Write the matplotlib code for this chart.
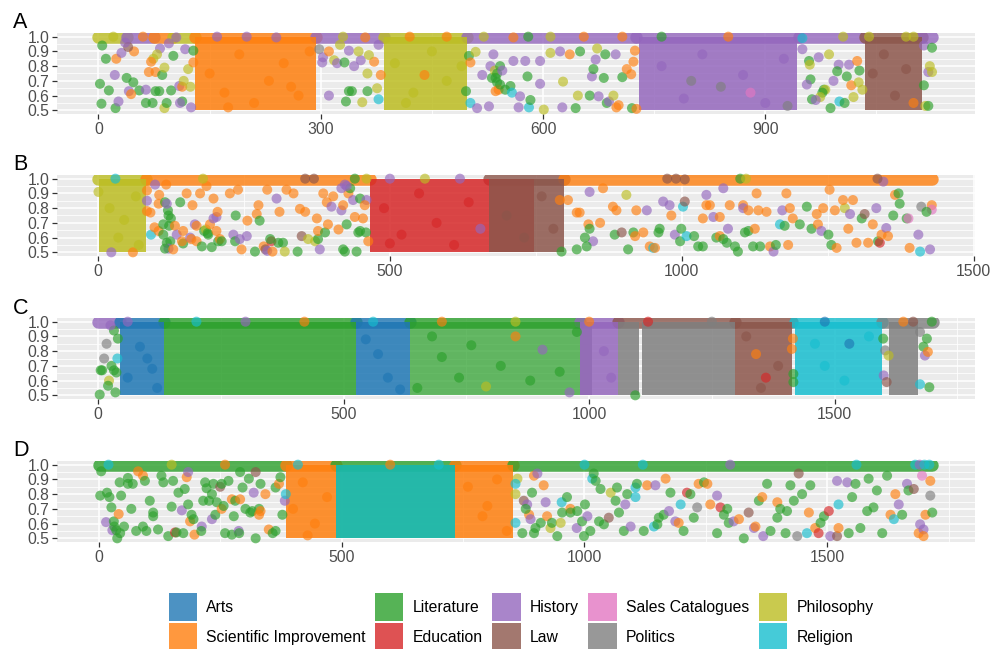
import matplotlib.pyplot as plt
from matplotlib.patches import Patch

plt.rcParams['font.family'] = ['Liberation Sans', 'DejaVu Sans']

categories = ['Arts', 'Scientific Improvement', 'Literature', 'Education', 'History',
              'Law', 'Sales Catalogues', 'Politics', 'Philosophy', 'Religion']
codes = ['Ar', 'Sc', 'Li', 'Ed', 'Hi', 'La', 'Sa', 'Po', 'Ph', 'Re']
palette = ['#1f77b4', '#ff7f0e', '#2ca02c', '#d62728', '#9467bd',
           '#8c564b', '#e377c2', '#7f7f7f', '#bcbd22', '#17becf']
colour = dict(zip(codes, palette))

panel_labels = ['A', 'B', 'C', 'D']

# dense runs of items (drawn as solid blocks): start, end, category
A_blocks = [(130, 293, 'Sc'), (386, 497, 'Ph'), (730, 943, 'Hi'), (1034, 1111, 'La')]
B_blocks = [(2, 82, 'Ph'), (466, 747, 'Ed'), (669, 798, 'La')]
C_blocks = [(45, 133, 'Ar'), (133, 525, 'Li'), (525, 636, 'Ar'), (636, 982, 'Li'),
            (982, 1006, 'Po'), (982, 1059, 'Hi'), (1059, 1102, 'Po'), (1108, 1297, 'Po'),
            (1297, 1413, 'La'), (1419, 1597, 'Re'), (1611, 1670, 'Po')]
D_blocks = [(385, 488, 'Sc'), (488, 733, 'Li'), (488, 733, 'Re'), (733, 852, 'Sc')]

# runs of items sitting on the 1.0 line
A_top = [(0, 38, 'Ph'), (38, 75, 'Hi'), (75, 100, 'Sc'), (100, 130, 'Ph'), (130, 293, 'Sc'),
         (293, 386, 'Hi'), (386, 497, 'Ph'), (497, 725, 'Hi'), (725, 945, 'Hi'),
         (945, 1034, 'Hi'), (1034, 1111, 'La'), (1111, 1125, 'Hi')]
B_top = [(0, 82, 'Ph'), (82, 466, 'Sc'), (669, 798, 'La'), (798, 1428, 'Sc')]
C_top = [(0, 45, 'Hi'), (45, 133, 'Ar'), (133, 525, 'Li'), (525, 636, 'Ar'), (636, 982, 'Li'),
         (982, 1059, 'Hi'), (1059, 1297, 'La'), (1297, 1413, 'La'), (1419, 1597, 'Re'),
         (1597, 1700, 'Po')]
D_top = [(0, 385, 'Li'), (385, 488, 'Sc'), (488, 733, 'Li'), (733, 852, 'Sc'), (852, 1716, 'Li')]

# scattered items: position, score, category
A_points = [
    (5, 0.94, 'Li'), (10, 0.85, 'Li'), (2, 0.68, 'Li'), (4, 0.545, 'Li'), (14, 0.635, 'Li'),
    (23, 0.515, 'Li'), (22, 0.74, 'Hi'), (27, 0.56, 'Hi'), (24, 0.85, 'Sc'), (31, 0.89, 'Hi'),
    (38, 0.72, 'Li'), (47, 0.69, 'Li'), (55, 0.635, 'Li'), (41, 0.63, 'Hi'), (44, 0.61, 'Sc'),
    (48, 0.90, 'Sc'), (40, 0.93, 'La'), (36, 0.96, 'Hi'), (64, 0.55, 'Li'), (73, 0.55, 'Li'),
    (64, 0.64, 'Hi'), (68, 0.76, 'Sc'), (74, 0.85, 'Ph'), (71, 0.83, 'Sc'), (77, 0.76, 'Sc'),
    (82, 0.63, 'Li'), (77, 0.63, 'Li'), (89, 0.515, 'Ph'), (92, 0.55, 'Li'), (86, 0.74, 'Li'),
    (89, 0.79, 'Ph'), (83, 0.92, 'Hi'), (95, 0.955, 'Hi'), (79, 0.88, 'Ph'), (98, 0.635, 'Li'),
    (109, 0.665, 'Hi'), (113, 0.66, 'Sc'), (113, 0.56, 'Li'), (110, 0.55, 'Hi'), (115, 0.70, 'Ph'),
    (124, 0.66, 'Ph'), (121, 0.78, 'Ph'), (117, 0.915, 'Hi'), (101, 0.87, 'Li'), (125, 0.52, 'Hi'),
    (128, 0.905, 'Li'), (128, 0.825, 'Sc'),
    (150, 0.75, 'Sc'), (170, 0.62, 'Sc'), (190, 0.88, 'Sc'), (210, 0.55, 'Sc'), (230, 0.70, 'Sc'),
    (250, 0.82, 'Sc'), (270, 0.60, 'Sc'), (285, 0.90, 'Sc'), (175, 0.52, 'Sc'), (260, 0.66, 'Sc'),
    (298, 0.915, 'Po'), (303, 0.86, 'Hi'), (311, 0.90, 'Sc'), (302, 0.825, 'Hi'), (311, 0.60, 'Hi'),
    (318, 0.84, 'Ph'), (322, 0.82, 'Hi'), (332, 0.825, 'Li'), (326, 0.945, 'Ph'), (338, 0.905, 'Hi'),
    (345, 0.80, 'Hi'), (354, 0.84, 'Hi'), (351, 0.90, 'Ph'), (363, 0.75, 'Ph'), (372, 0.83, 'Sc'),
    (365, 0.875, 'Ph'), (378, 0.945, 'Hi'), (338, 0.63, 'Li'), (334, 0.56, 'Li'), (342, 0.63, 'Li'),
    (356, 0.555, 'Ph'), (363, 0.63, 'Li'), (376, 0.65, 'Ph'), (378, 0.575, 'Re'), (381, 0.74, 'Sc'),
    (400, 0.82, 'Ph'), (425, 0.62, 'Ph'), (450, 0.90, 'Ph'), (470, 0.70, 'Ph'), (415, 0.55, 'Ph'),
    (490, 0.80, 'Ph'), (440, 0.74, 'Sc'),
    (500, 0.87, 'Li'), (496, 0.63, 'Li'), (502, 0.55, 'Re'), (511, 0.515, 'Hi'), (509, 0.897, 'Ph'),
    (502, 0.825, 'Sc'), (518, 0.74, 'Hi'), (529, 0.80, 'Hi'), (527, 0.527, 'Hi'), (531, 0.72, 'Li'),
    (535, 0.77, 'Ph'), (538, 0.69, 'Li'), (538, 0.75, 'Li'), (536, 0.63, 'Sc'),
    (533, 0.88, 'Hi'), (536, 0.72, 'Li'), (540, 0.64, 'Sc'), (542, 0.675, 'Li'), (549, 0.64, 'Li'),
    (556, 0.665, 'Li'), (542, 0.80, 'Li'), (545, 0.77, 'Hi'), (558, 0.62, 'Re'), (569, 0.595, 'Hi'),
    (567, 0.52, 'Hi'), (581, 0.52, 'Re'), (583, 0.57, 'Li'), (579, 0.73, 'Li'), (596, 0.68, 'Hi'),
    (596, 0.835, 'Hi'), (601, 0.505, 'Ph'), (560, 0.835, 'Hi'), (576, 0.835, 'Hi'), (610, 0.89, 'Ph'),
    (623, 0.90, 'Hi'), (626, 0.52, 'Hi'), (627, 0.695, 'Ph'), (636, 0.88, 'Sc'), (644, 0.515, 'Li'),
    (647, 0.60, 'Ph'), (650, 0.90, 'Li'), (663, 0.60, 'Li'), (666, 0.73, 'Hi'), (668, 0.78, 'Li'),
    (671, 0.845, 'Hi'), (673, 0.92, 'Ph'), (682, 0.72, 'Li'), (684, 0.88, 'Li'), (675, 0.595, 'Hi'),
    (686, 0.55, 'Li'), (689, 0.56, 'Hi'), (695, 0.60, 'Ph'), (698, 0.88, 'Hi'), (699, 0.52, 'Sc'),
    (702, 0.535, 'Sc'), (707, 0.725, 'Li'), (713, 0.78, 'Sc'), (719, 0.745, 'Sc'), (722, 0.83, 'Sc'),
    (724, 0.905, 'Sc'), (720, 0.515, 'Li'), (726, 0.51, 'Sc'),
    (760, 0.80, 'Hi'), (790, 0.58, 'Hi'), (815, 0.88, 'Hi'), (840, 0.66, 'Po'), (870, 0.74, 'Hi'),
    (900, 0.55, 'Hi'), (925, 0.85, 'Hi'), (800, 0.70, 'Po'), (880, 0.62, 'Sa'), (930, 0.53, 'Po'),
    (950, 0.915, 'Hi'), (959, 0.835, 'Li'), (960, 0.81, 'Ph'), (972, 0.86, 'Hi'), (961, 0.71, 'Li'),
    (956, 0.675, 'Hi'), (979, 0.64, 'Li'), (981, 0.64, 'Ph'), (977, 0.62, 'Li'), (974, 0.59, 'Ph'),
    (963, 0.575, 'Li'), (968, 0.57, 'Hi'), (986, 0.88, 'Ph'), (988, 0.515, 'Li'), (999, 0.81, 'Hi'),
    (1013, 0.81, 'Hi'), (997, 0.765, 'Li'), (1010, 0.73, 'Li'), (992, 0.70, 'Hi'), (1000, 0.56, 'Re'),
    (1007, 0.55, 'Li'), (1019, 0.59, 'Ph'), (1016, 0.67, 'Sc'), (1026, 0.69, 'Ph'), (1027, 0.77, 'Li'),
    (1024, 0.835, 'Sc'), (1031, 0.64, 'Ph'),
    (1045, 0.75, 'La'), (1060, 0.88, 'La'), (1075, 0.60, 'La'), (1090, 0.78, 'La'), (1100, 0.55, 'Sc'),
    (1114, 0.94, 'Hi'), (1120, 0.76, 'Hi'), (1122, 0.80, 'Ph'), (1125, 0.76, 'Ph'), (1125, 0.925, 'Li'),
    (1114, 0.67, 'Li'), (1116, 0.53, 'Ph'), (1120, 0.53, 'Li'),
    (20, 1.0, 'Ph'), (60, 1.0, 'Sc'), (105, 0.995, 'Hi'), (160, 1.0, 'Hi'), (200, 1.0, 'Hi'),
    (240, 0.995, 'Hi'), (330, 1.0, 'Ph'), (360, 0.995, 'Sc'), (420, 1.0, 'Sc'), (470, 1.0, 'Sc'),
    (520, 1.0, 'Ph'), (560, 0.995, 'Sc'), (580, 1.0, 'Li'), (610, 1.0, 'Ph'), (655, 1.0, 'Sc'),
    (707, 1.0, 'Sc'), (760, 1.0, 'Li'), (850, 1.0, 'Sc'), (950, 0.99, 'Re'), (1005, 1.0, 'Ph'),
    (1040, 1.0, 'Ph'), (1090, 1.0, 'Ph'), (1100, 1.0, 'Ph'),
]

B_points = [
    (1, 0.91, 'Ph'), (23, 0.50, 'Hi'), (60, 0.50, 'Sc'), (84, 0.85, 'Hi'), (84, 0.92, 'Sc'),
    (20, 0.80, 'Ph'), (45, 0.72, 'Ph'), (65, 0.88, 'Ph'), (35, 0.60, 'Ph'), (70, 0.55, 'Ph'),
    (84, 0.78, 'Sc'), (90, 0.77, 'Sc'), (91, 0.62, 'Re'), (97, 0.67, 'Sc'), (104, 0.645, 'Sc'),
    (112, 0.62, 'Li'), (104, 0.83, 'Sc'), (105, 0.89, 'Sc'), (98, 0.96, 'Hi'), (117, 0.96, 'Sc'),
    (115, 0.84, 'Li'), (120, 0.785, 'Li'), (118, 0.83, 'Hi'), (121, 0.75, 'Li'), (125, 0.73, 'Li'),
    (122, 0.68, 'Li'), (112, 0.69, 'Li'), (124, 0.575, 'Li'), (118, 0.565, 'Li'), (121, 0.525, 'Hi'),
    (115, 0.525, 'Li'), (129, 0.52, 'Sc'), (132, 0.68, 'Sc'), (135, 0.62, 'Hi'), (141, 0.84, 'Li'),
    (146, 0.645, 'Sc'), (146, 0.56, 'Li'), (144, 0.575, 'Sc'), (152, 0.90, 'Sc'), (162, 0.82, 'Sc'),
    (158, 0.60, 'Hi'), (160, 0.59, 'Sc'), (166, 0.69, 'Hi'), (169, 0.68, 'Sc'), (169, 0.575, 'Sc'),
    (178, 0.54, 'Li'), (182, 0.645, 'Li'), (185, 0.655, 'Ph'), (188, 0.63, 'Li'), (189, 0.62, 'Li'),
    (192, 0.69, 'Sc'), (195, 0.535, 'Li'), (198, 0.73, 'Hi'), (203, 0.74, 'Hi'), (205, 0.775, 'Sc'),
    (203, 0.645, 'Sc'), (206, 0.575, 'Li'), (209, 0.59, 'Sc'), (212, 0.575, 'Li'), (175, 0.90, 'Sc'),
    (186, 0.95, 'Sc'), (198, 0.865, 'Sc'), (226, 0.90, 'Sc'), (232, 0.62, 'Hi'), (235, 0.575, 'Li'),
    (243, 0.59, 'Hi'), (246, 0.52, 'Sc'), (240, 0.925, 'Sc'), (255, 0.61, 'Hi'), (256, 0.715, 'Sc'),
    (269, 0.505, 'Li'), (272, 0.76, 'Sc'), (277, 0.715, 'Li'), (275, 0.82, 'Sc'), (236, 0.75, 'Li'),
    (290, 0.925, 'Sc'), (284, 0.54, 'Sc'), (287, 0.52, 'La'), (290, 0.51, 'Hi'), (297, 0.575, 'Ed'),
    (299, 0.505, 'Sc'), (295, 0.59, 'Li'), (306, 0.865, 'Hi'), (311, 0.775, 'Sc'), (309, 0.565, 'Li'),
    (317, 0.565, 'Li'), (320, 0.505, 'Ph'), (323, 0.925, 'Sc'), (335, 0.90, 'Sc'), (342, 0.505, 'Li'),
    (346, 0.795, 'Sc'), (355, 0.775, 'Sc'), (349, 0.61, 'La'), (360, 0.59, 'Ph'), (372, 0.575, 'Ph'),
    (377, 0.59, 'Li'), (380, 0.52, 'Hi'), (377, 0.645, 'Sc'), (375, 0.73, 'Sc'), (386, 0.90, 'Sc'),
    (392, 0.84, 'Sc'), (389, 0.635, 'Li'), (394, 0.69, 'Sc'), (400, 0.81, 'Hi'), (403, 0.88, 'Sc'),
    (417, 0.785, 'Hi'), (412, 0.655, 'Sc'), (420, 0.82, 'Sc'), (423, 0.505, 'Li'), (420, 0.52, 'Li'),
    (426, 0.69, 'Li'), (429, 0.90, 'Sc'), (437, 0.855, 'Hi'), (440, 0.74, 'Sc'), (446, 0.635, 'Li'),
    (449, 0.645, 'Li'), (443, 0.505, 'Li'), (432, 0.935, 'Li'), (449, 0.865, 'Li'), (454, 0.73, 'Sc'),
    (460, 0.855, 'Hi'), (457, 0.82, 'Sc'), (459, 0.635, 'Li'), (463, 0.575, 'Sc'), (423, 0.96, 'Hi'),
    (426, 0.95, 'Hi'), (417, 0.935, 'Hi'),
    (490, 0.80, 'Ed'), (520, 0.62, 'Ed'), (550, 0.90, 'Ed'), (580, 0.70, 'Ed'), (610, 0.55, 'Ed'),
    (635, 0.84, 'Ed'), (655, 0.66, 'Hi'), (500, 0.56, 'Ed'), (700, 0.75, 'La'), (730, 0.60, 'La'),
    (760, 0.88, 'La'), (780, 0.66, 'La'),
    (791, 0.855, 'Sc'), (805, 0.855, 'Sc'), (820, 0.77, 'Sc'), (825, 0.77, 'Sc'), (840, 0.69, 'Sc'),
    (842, 0.66, 'Li'), (848, 0.575, 'Hi'), (834, 0.60, 'Li'), (837, 0.54, 'Li'), (820, 0.52, 'Li'),
    (794, 0.505, 'Li'), (842, 0.91, 'Hi'), (860, 0.70, 'Sc'), (865, 0.935, 'Sc'), (882, 0.81, 'Sc'),
    (885, 0.62, 'Li'), (897, 0.635, 'La'), (888, 0.785, 'Sc'), (905, 0.89, 'Ph'), (908, 0.52, 'Li'),
    (917, 0.635, 'Li'), (920, 0.61, 'Sc'), (922, 0.785, 'Sc'), (934, 0.635, 'Sc'), (940, 0.785, 'Hi'),
    (945, 0.54, 'Sc'), (951, 0.53, 'Re'), (954, 0.53, 'Sc'), (960, 0.635, 'Li'), (962, 0.66, 'Li'),
    (968, 0.845, 'Hi'), (979, 0.82, 'Hi'), (982, 0.75, 'Sc'), (988, 0.62, 'Hi'), (997, 0.575, 'Li'),
    (999, 0.66, 'Li'), (1002, 0.81, 'Re'), (1005, 0.845, 'La'), (1008, 0.61, 'Re'), (1021, 0.61, 'Li'),
    (1028, 0.54, 'Li'), (1036, 0.54, 'Li'), (1036, 0.73, 'Sc'), (1042, 0.82, 'Sc'), (1048, 0.82, 'Sc'),
    (1054, 0.74, 'Hi'), (1065, 0.74, 'Sc'), (1059, 0.60, 'Li'), (1065, 0.61, 'Sc'), (1071, 0.59, 'Li'),
    (1077, 0.565, 'Li'), (1082, 0.82, 'Sc'), (1079, 0.66, 'Hi'), (1071, 0.935, 'Hi'), (1042, 0.89, 'Hi'),
    (1091, 0.54, 'Li'), (1096, 0.505, 'Li'), (1105, 0.82, 'Sc'), (1105, 0.80, 'Hi'), (1114, 0.785, 'Sc'),
    (1108, 0.635, 'Li'), (1114, 0.645, 'Li'), (1125, 0.66, 'Sc'), (1122, 0.54, 'Li'), (1134, 0.54, 'Li'),
    (1131, 0.785, 'Sc'), (1128, 0.90, 'Sc'), (1145, 0.775, 'Sc'), (1151, 0.54, 'Sc'), (1157, 0.505, 'Hi'),
    (1161, 0.55, 'Li'), (1168, 0.69, 'Re'), (1172, 0.785, 'Hi'), (1176, 0.68, 'Li'), (1179, 0.90, 'Sc'),
    (1185, 0.80, 'Sc'), (1190, 0.73, 'Sc'), (1182, 0.55, 'Sc'), (1202, 0.69, 'Li'), (1214, 0.81, 'Li'),
    (1222, 0.66, 'Li'), (1231, 0.76, 'Sc'), (1233, 0.69, 'Sc'), (1239, 0.645, 'Hi'), (1242, 0.80, 'Sc'),
    (1253, 0.925, 'Sc'), (1251, 0.62, 'Li'), (1256, 0.55, 'Li'), (1265, 0.53, 'Sc'), (1262, 0.785, 'Sc'),
    (1279, 0.80, 'Ph'), (1276, 0.855, 'Sc'), (1285, 0.66, 'Sc'), (1288, 0.76, 'Hi'), (1293, 0.855, 'Sc'),
    (1299, 0.565, 'Sc'), (1308, 0.73, 'Li'), (1313, 0.76, 'La'), (1319, 0.565, 'Sc'), (1327, 0.69, 'Sc'),
    (1333, 0.80, 'Hi'), (1336, 0.575, 'Li'), (1339, 0.565, 'Ed'), (1342, 0.62, 'Sc'), (1350, 0.665, 'Hi'),
    (1353, 0.61, 'Sc'), (1345, 0.98, 'Hi'), (1365, 0.89, 'Sc'), (1371, 0.90, 'Li'), (1373, 0.83, 'Li'),
    (1362, 0.75, 'Li'), (1385, 0.73, 'Li'), (1388, 0.73, 'Sa'), (1390, 0.53, 'Sc'), (1405, 0.62, 'Hi'),
    (1408, 0.505, 'Re'), (1410, 0.81, 'Po'), (1425, 0.52, 'Hi'), (1428, 0.82, 'Sc'), (1428, 0.79, 'Sa'),
    (1419, 0.775, 'Li'),
    (355, 1.0, 'La'), (370, 1.0, 'La'), (975, 1.0, 'La'), (990, 1.0, 'La'), (1005, 0.995, 'La'),
    (1335, 1.0, 'La'), (1100, 1.0, 'Li'), (1110, 1.0, 'Ph'), (30, 1.0, 'Re'), (180, 1.0, 'Ph'),
    (440, 1.0, 'Li'), (460, 1.0, 'Ph'), (500, 1.0, 'Hi'), (560, 1.0, 'Ph'), (620, 1.0, 'Hi'),
]

C_points = [
    (3, 0.505, 'Li'), (8, 0.67, 'Li'), (12, 0.75, 'Po'), (17, 0.85, 'Po'), (22, 0.60, 'Ph'),
    (20, 0.565, 'Li'), (5, 0.67, 'Li'), (27, 0.70, 'Li'), (32, 0.67, 'Li'), (35, 0.52, 'Li'),
    (37, 0.655, 'Li'), (40, 0.885, 'Li'), (39, 0.75, 'Re'), (32, 0.94, 'Li'), (25, 0.975, 'Hi'),
    (60, 0.62, 'Ar'), (85, 0.83, 'Ar'), (110, 0.68, 'Ar'), (120, 0.55, 'Ar'), (545, 0.88, 'Ar'),
    (590, 0.62, 'Ar'), (615, 0.54, 'Ar'), (1460, 0.85, 'Re'), (1520, 0.60, 'Re'), (1570, 0.90, 'Re'),
    (1674, 0.93, 'Po'), (1688, 0.885, 'Li'), (1681, 0.83, 'Li'), (1684, 0.77, 'Hi'), (1690, 0.795, 'Sc'),
    (1693, 0.555, 'Li'), (1674, 0.575, 'Re'), (1698, 1.0, 'Li'), (1599, 0.885, 'Li'), (1603, 0.805, 'Po'),
    (1600, 0.635, 'Hi'), (1606, 0.59, 'La'), (1610, 0.77, 'Ph'), (1416, 0.645, 'Li'), (1416, 0.59, 'Li'),
    (1415, 0.885, 'Sc'), (1413, 0.815, 'Sc'), (1094, 0.50, 'Li'),
    (680, 0.90, 'Li'), (700, 0.76, 'Li'), (735, 0.62, 'Li'), (760, 0.84, 'Li'), (790, 0.56, 'Ph'),
    (820, 0.70, 'Li'), (850, 0.90, 'Sc'), (880, 0.60, 'Li'), (905, 0.81, 'Hi'), (940, 0.66, 'Li'),
    (960, 0.52, 'Hi'), (650, 0.55, 'Li'), (975, 0.93, 'Li'), (100, 0.75, 'Ar'), (570, 0.78, 'Ar'),
    (1340, 0.78, 'Sc'), (1360, 0.62, 'Ed'), (1480, 0.70, 'Re'), (1530, 0.85, 'Ar'),
    (1320, 0.90, 'La'), (1385, 0.70, 'La'), (1350, 0.55, 'La'), (1030, 0.80, 'Hi'), (1045, 0.62, 'Hi'),
    (60, 1.0, 'Hi'), (200, 1.0, 'Re'), (300, 1.0, 'Hi'), (420, 1.0, 'Sc'), (560, 1.0, 'Re'),
    (700, 1.0, 'Sc'), (850, 1.0, 'Ph'), (1000, 1.0, 'Sc'), (1120, 1.0, 'Ed'), (1250, 1.0, 'Po'),
    (1480, 1.0, 'Ar'), (1640, 1.0, 'Sc'), (1660, 1.0, 'La'),
]

D_points = [
    (3, 0.79, 'Li'), (17, 0.81, 'Li'), (5, 0.955, 'Li'), (15, 0.61, 'Hi'), (28, 0.555, 'Hi'),
    (22, 0.78, 'Li'), (26, 0.71, 'Li'), (31, 0.615, 'Li'), (32, 0.58, 'Li'), (36, 0.555, 'Li'),
    (38, 0.50, 'Li'), (41, 0.665, 'Sc'), (44, 0.535, 'Li'), (46, 0.79, 'Li'), (52, 0.58, 'Li'),
    (43, 0.88, 'Li'), (60, 0.87, 'Li'), (60, 0.91, 'Li'), (67, 0.70, 'Li'), (70, 0.87, 'Li'),
    (77, 0.55, 'Li'), (81, 0.955, 'Sc'), (91, 0.925, 'Sc'), (98, 0.55, 'Li'), (95, 0.89, 'Li'),
    (91, 0.58, 'Li'), (105, 0.755, 'Li'), (112, 0.675, 'Li'), (112, 0.65, 'Li'), (122, 0.56, 'Li'),
    (129, 0.925, 'Li'), (133, 0.88, 'Li'), (143, 0.515, 'Li'), (150, 0.715, 'Li'), (153, 0.89, 'Li'),
    (157, 0.54, 'Ed'), (160, 0.54, 'Li'), (164, 0.81, 'Li'), (171, 0.69, 'Hi'), (174, 0.535, 'Li'),
    (177, 0.835, 'Li'), (181, 0.915, 'Sc'), (184, 0.95, 'Hi'), (184, 0.73, 'Li'), (188, 0.615, 'Sc'),
    (195, 0.63, 'Li'), (191, 0.66, 'Li'), (197, 0.525, 'Sc'), (212, 0.58, 'Hi'), (211, 0.55, 'Li'),
    (215, 0.755, 'Li'), (219, 0.88, 'Li'), (222, 0.84, 'Li'), (227, 0.755, 'Li'), (233, 0.80, 'Li'),
    (233, 0.63, 'Hi'), (236, 0.87, 'Li'), (240, 0.66, 'Li'), (243, 0.745, 'Li'), (250, 0.85, 'La'),
    (253, 0.87, 'Li'), (253, 0.70, 'Sc'), (257, 0.72, 'Li'), (260, 0.535, 'Li'), (267, 0.89, 'Li'),
    (274, 0.765, 'Sc'), (278, 0.65, 'Li'), (274, 0.525, 'Li'), (281, 0.755, 'Li'), (288, 0.55, 'Hi'),
    (289, 0.535, 'Li'), (291, 0.765, 'Sc'), (291, 0.95, 'Li'), (296, 0.845, 'Li'), (302, 0.70, 'Li'),
    (309, 0.905, 'Li'), (312, 0.675, 'Li'), (316, 0.685, 'Li'), (319, 0.81, 'Hi'), (323, 0.50, 'Li'),
    (323, 0.95, 'La'), (330, 0.70, 'Li'), (333, 0.685, 'Sc'), (330, 0.66, 'Sc'), (333, 0.87, 'Li'),
    (343, 0.80, 'Sc'), (350, 0.56, 'Sc'), (358, 0.535, 'Li'), (364, 0.845, 'Li'), (371, 0.87, 'Sc'),
    (374, 0.915, 'Li'), (378, 0.66, 'Li'), (383, 0.755, 'Hi'), (385, 0.80, 'Re'), (364, 0.55, 'Li'),
    (400, 0.70, 'Sc'), (420, 0.88, 'Sc'), (445, 0.60, 'Sc'), (470, 0.78, 'Sc'), (760, 0.85, 'Sc'),
    (790, 0.65, 'Sc'), (820, 0.90, 'Sc'), (840, 0.55, 'Sc'), (800, 0.72, 'Sc'), (430, 0.52, 'Sc'),
    (862, 0.905, 'Ph'), (858, 0.87, 'Re'), (858, 0.80, 'Ph'), (858, 0.605, 'Re'), (872, 0.535, 'Li'),
    (875, 0.755, 'La'), (882, 0.73, 'Hi'), (886, 0.66, 'Sc'), (889, 0.63, 'Hi'), (879, 0.70, 'Li'),
    (892, 0.81, 'Li'), (896, 0.925, 'Sc'), (903, 0.94, 'Hi'), (896, 0.535, 'Li'), (899, 0.57, 'Li'),
    (910, 0.605, 'Li'), (916, 0.86, 'Sc'), (920, 0.745, 'Hi'), (923, 0.65, 'Sc'), (930, 0.57, 'Ph'),
    (933, 0.605, 'Li'), (944, 0.515, 'Li'), (951, 0.605, 'Ph'), (953, 0.745, 'Re'), (954, 0.675, 'Li'),
    (964, 0.78, 'Li'), (971, 0.70, 'Sc'), (971, 0.675, 'Li'), (985, 0.685, 'Li'), (984, 0.57, 'Hi'),
    (995, 0.615, 'Li'), (999, 0.515, 'Li'), (1001, 0.73, 'Li'), (1006, 0.65, 'Hi'), (1012, 0.55, 'Li'),
    (1016, 0.905, 'Re'), (1019, 0.94, 'Li'), (1023, 0.89, 'Li'), (1030, 0.615, 'Li'), (1040, 0.595, 'Li'),
    (1033, 0.835, 'Li'), (1050, 0.64, 'La'), (1054, 0.81, 'Ph'), (1064, 0.755, 'Li'), (1067, 0.845, 'Li'),
    (1071, 0.675, 'Li'), (1081, 0.55, 'Li'), (1084, 0.73, 'Hi'), (1088, 0.80, 'Li'), (1095, 0.58, 'Hi'),
    (1105, 0.78, 'Re'), (1105, 0.845, 'Re'), (1108, 0.87, 'Li'), (1122, 0.55, 'Li'), (1129, 0.86, 'Sc'),
    (1146, 0.86, 'Hi'), (1143, 0.58, 'Re'), (1150, 0.595, 'Li'), (1153, 0.64, 'Li'), (1163, 0.66, 'Li'),
    (1167, 0.905, 'Sc'), (1174, 0.685, 'Hi'), (1177, 0.81, 'Li'), (1187, 0.615, 'Hi'), (1194, 0.605, 'Sc'),
    (1198, 0.73, 'Re'), (1204, 0.55, 'Li'), (1211, 0.81, 'Ed'), (1218, 0.80, 'Li'), (1225, 0.64, 'Li'),
    (1232, 0.71, 'Po'), (1235, 0.87, 'Sc'), (1246, 0.88, 'Li'), (1253, 0.87, 'Sc'), (1259, 0.73, 'Sc'),
    (1273, 0.535, 'Li'), (1273, 0.79, 'Hi'), (1280, 0.71, 'Ed'), (1287, 0.66, 'Li'), (1294, 0.70, 'Li'),
    (1297, 0.605, 'Li'), (1307, 0.615, 'Hi'), (1318, 0.63, 'Sc'), (1328, 0.50, 'Li'), (1338, 0.675, 'La'),
    (1349, 0.57, 'Hi'), (1352, 0.58, 'Sc'), (1359, 0.755, 'Li'), (1366, 0.78, 'Sc'), (1368, 0.515, 'Hi'),
    (1376, 0.87, 'Li'), (1383, 0.55, 'Li'), (1397, 0.745, 'Sc'), (1397, 0.64, 'Li'), (1403, 0.70, 'Li'),
    (1414, 0.535, 'Li'), (1417, 0.685, 'Li'), (1424, 0.86, 'Li'), (1431, 0.755, 'Li'), (1438, 0.515, 'Po'),
    (1441, 0.94, 'La'), (1448, 0.80, 'Li'), (1458, 0.535, 'Re'), (1462, 0.675, 'Sc'), (1465, 0.86, 'Li'),
    (1475, 0.57, 'Sc'), (1482, 0.535, 'Ed'), (1486, 0.605, 'Li'), (1493, 0.65, 'Li'), (1503, 0.685, 'Ed'),
    (1506, 0.515, 'Hi'), (1520, 0.515, 'La'), (1523, 0.57, 'Sc'), (1520, 0.89, 'Hi'), (1523, 0.73, 'Re'),
    (1541, 0.88, 'Hi'), (1544, 0.535, 'Li'), (1551, 0.78, 'Li'), (1558, 0.87, 'Li'), (1568, 0.57, 'Li'),
    (1582, 0.685, 'Li'), (1585, 0.905, 'Li'), (1595, 0.71, 'Li'), (1602, 0.825, 'Li'), (1613, 0.535, 'Li'),
    (1623, 0.925, 'Li'), (1630, 0.66, 'Sc'), (1637, 0.63, 'Re'), (1640, 0.80, 'Sc'), (1647, 0.73, 'Hi'),
    (1654, 0.66, 'Li'), (1664, 0.87, 'Hi'), (1667, 0.825, 'Li'), (1678, 0.835, 'La'), (1688, 0.535, 'Sc'),
    (1691, 0.595, 'Hi'), (1698, 0.56, 'Hi'), (1702, 0.66, 'Sc'), (1712, 0.89, 'Sc'), (1712, 0.79, 'Po'),
    (1716, 0.675, 'Li'), (1698, 0.515, 'Sc'), (1695, 0.925, 'Sa'), (1681, 1.0, 'Re'),
    (20, 1.0, 'Re'), (150, 1.0, 'Ph'), (260, 1.0, 'Sc'), (410, 1.0, 'Re'), (600, 1.0, 'Sc'),
    (700, 1.0, 'Re'), (1000, 1.0, 'Re'), (1120, 1.0, 'Re'), (1300, 1.0, 'Hi'), (1560, 1.0, 'Re'),
    (1690, 1.0, 'Hi'), (1700, 1.0, 'Re'), (1710, 1.0, 'Re'),
]

panels = [
    (A_blocks, A_top, A_points),
    (B_blocks, B_top, B_points),
    (C_blocks, C_top, C_points),
    (D_blocks, D_top, D_points),
]

W, H = 991, 649
left, right = 57, 975
tops = [33, 175, 318, 461]
panel_h = 81
xlims = [(-56, 1183), (-70, 1502), (-84, 1786), (-86, 1804)]
xticks = [[0, 300, 600, 900], [0, 500, 1000, 1500], [0, 500, 1000, 1500], [0, 500, 1000, 1500]]
block_alpha = {(2, 3): 0.72, (3, 2): 0.72}

fig = plt.figure(figsize=(W / 100, H / 100), dpi=100)
for i, (blocks, top, points) in enumerate(panels):
    ax = fig.add_axes([left / W, 1 - (tops[i] + panel_h) / H, (right - left) / W, panel_h / H])
    ax.set_facecolor('#EBEBEB')
    for s in ax.spines.values():
        s.set_visible(False)
    step = xticks[i][1] - xticks[i][0]
    ax.set_xticks(xticks[i])
    ax.set_xticks([t + step / 2 for t in [-step] + xticks[i]], minor=True)
    ax.set_yticks([0.5, 0.6, 0.7, 0.8, 0.9, 1.0])
    ax.set_yticks([0.55, 0.65, 0.75, 0.85, 0.95], minor=True)
    ax.set_yticklabels(['0.5', '0.6', '0.7', '0.8', '0.9', '1.0'])
    ax.grid(True, which='major', color='white', linewidth=1.1)
    ax.grid(True, which='minor', color='white', linewidth=0.55)
    ax.set_axisbelow(True)
    ax.tick_params(which='major', length=3.5, width=0.9, color='#333333',
                   labelcolor='#4D4D4D', labelsize=11.3, pad=2)
    ax.tick_params(which='minor', length=0)

    # band of items at the top of the score range
    for s0, s1, c in top:
        ax.hlines(0.996, s0, s1, colors=colour[c], linewidth=9, alpha=0.8, zorder=1,
                  capstyle='round')
    for j, (s0, s1, c) in enumerate(blocks):
        ax.bar(s0, 0.5, width=s1 - s0, bottom=0.5, align='edge', color=colour[c],
               alpha=block_alpha.get((i, j), 0.85), linewidth=0, zorder=2)
    xs = [p[0] for p in points]
    ys = [p[1] for p in points]
    cs = [colour[p[2]] for p in points]
    ax.scatter(xs, ys, c=cs, s=52, alpha=0.65, linewidths=0, zorder=3, clip_on=False)
    ax.set_xlim(*xlims[i])
    ax.set_ylim(0.475, 1.025)

    fig.text(13 / W, 1 - (tops[i] - 10) / H, panel_labels[i], fontsize=15.5,
             ha='left', va='center', color='black')

handles = [Patch(facecolor=colour[c], alpha=0.8, edgecolor='none') for c in codes]
fig.legend(handles, categories, loc='center', bbox_to_anchor=(521 / W, 1 - 622 / H),
           ncol=5, frameon=False, fontsize=11.3, handlelength=1.8, handleheight=2.4,
           handletextpad=0.6, columnspacing=0.6, labelspacing=0.12, borderpad=0)

fig.savefig('out.png', dpi=100)
